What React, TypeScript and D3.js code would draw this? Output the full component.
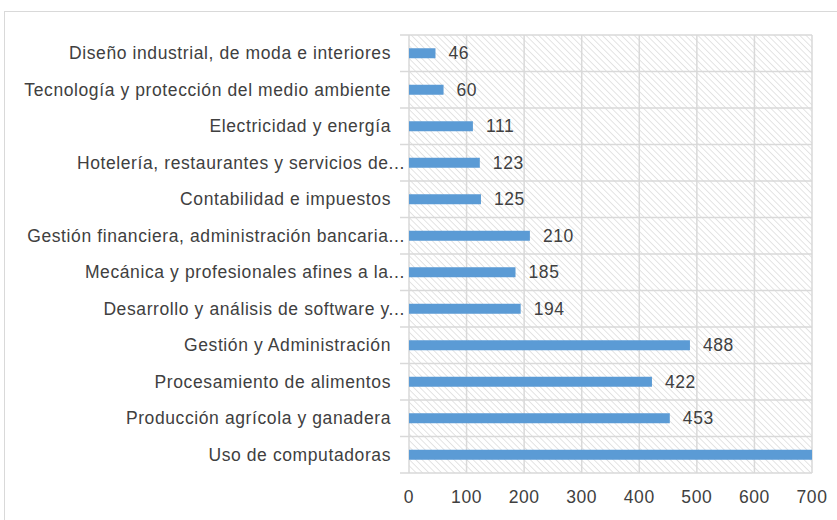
import React from 'react';
import * as d3 from 'd3';

const W = 837, H = 520;

const categories = [
  'Diseño industrial, de moda e interiores',
  'Tecnología y protección del medio ambiente',
  'Electricidad y energía',
  'Hotelería, restaurantes y servicios de...',
  'Contabilidad e impuestos',
  'Gestión financiera, administración bancaria...',
  'Mecánica y profesionales afines a la...',
  'Desarrollo y análisis de software y...',
  'Gestión y Administración',
  'Procesamiento de alimentos',
  'Producción agrícola y ganadera',
  'Uso de computadoras',
];
const values = [46, 60, 111, 123, 125, 210, 185, 194, 488, 422, 453, 760];
const ticks = [0, 100, 200, 300, 400, 500, 600, 700];

const left = 409, right = 812, top = 35, bottom = 473;
const font = '"Liberation Sans", Arial, sans-serif';
const txt = { fontFamily: font, fontSize: 17.5, fill: '#404040', letterSpacing: 0.6 };

export default function App() {
  const x = d3.scaleLinear().domain([0, 700]).range([left, right]);
  const y = d3.scaleBand().domain(categories).range([top, bottom]);
  const barH = 10;

  return (
    <svg width={W} height={H} style={{ position: 'absolute', left: 0, top: 0, background: '#fff' }}>
      <defs>
        <pattern id="hatch" width="4.5" height="4.5" patternUnits="userSpaceOnUse" patternTransform="rotate(-45)">
          <line x1="0" y1="0" x2="0" y2="4.5" stroke="#c8c8c8" strokeWidth="1" />
        </pattern>
        <clipPath id="plot">
          <rect x={left} y={top} width={right - left} height={bottom - top} />
        </clipPath>
      </defs>
      <rect x={4.5} y={11.5} width={W} height={H} fill="none" stroke="#d9d9d9" />
      <rect x={left} y={top} width={right - left} height={bottom - top} fill="url(#hatch)" />
      {ticks.map(t => (
        <line key={'v' + t} x1={x(t)} x2={x(t)} y1={top} y2={bottom} stroke="#d9d9d9" strokeWidth={1.5} />
      ))}
      {categories.map(c => (
        <line key={'h' + c} x1={left - 9} x2={right} y1={y(c)!} y2={y(c)!} stroke="#d9d9d9" strokeWidth={1.5} />
      ))}
      <line x1={left - 9} x2={right} y1={bottom} y2={bottom} stroke="#d9d9d9" strokeWidth={1.5} />
      <g clipPath="url(#plot)">
        {categories.map((c, i) => (
          <rect key={'b' + c} x={x(0)} y={y(c)! + y.bandwidth() / 2 - barH / 2}
            width={x(values[i]) - x(0)} height={barH} fill="#5b9bd5" />
        ))}
      </g>
      {categories.map((c, i) => values[i] <= 700 && (
        <text key={'l' + c} x={x(values[i]) + 13} y={y(c)! + y.bandwidth() / 2} dy="0.35em" {...txt}>{values[i]}</text>
      ))}
      {categories.map(c => (
        <text key={'c' + c} x={c.endsWith('...') ? 405 : 391} y={y(c)! + y.bandwidth() / 2} dy="0.35em"
          textAnchor="end" {...txt}>{c}</text>
      ))}
      {ticks.map(t => (
        <text key={'t' + t} x={x(t)} y={497} dy="0.35em" textAnchor="middle" {...txt}>{t}</text>
      ))}
    </svg>
  );
}
